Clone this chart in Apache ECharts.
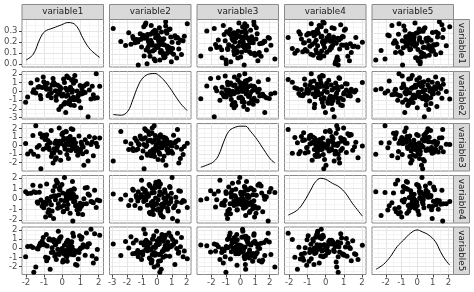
<!DOCTYPE html>
<html><head><meta charset="utf-8">
<script src="https://cdn.jsdelivr.net/npm/echarts@6/dist/echarts.min.js"></script>
<style>html,body{margin:0;padding:0;background:#fff}#c{width:474px;height:292px}</style>
</head><body><div id="c"></div>
<script>
const varNames = ['variable1','variable2','variable3','variable4','variable5'];

const v1 = [1.42,-2.02,-1.18,0.58,-1.57,0.31,-0.45,0.92,-0.12,1.65,
-0.83,0.05,0.47,-1.34,2.06,-0.27,0.73,-0.61,1.12,0.18,
-1.05,0.64,-0.38,1.87,-0.02,-0.74,0.39,1.33,-1.46,0.12,
0.85,-0.19,-0.92,0.54,1.58,-0.51,0.27,-1.21,0.98,-0.07,
0.43,-1.73,1.04,-0.33,0.69,0.22,-0.88,1.26,-0.56,0.36,
-0.14,1.71,-1.02,0.61,-0.29,0.08,1.19,-0.67,0.49,-1.38,
0.95,-0.41,0.15,1.49,-0.79,0.34,-0.22,0.77,-1.11,0.56,
1.93,-0.48,0.02,-0.95,0.66,1.08,-1.62,0.25,-0.35,0.81,
0.41,-0.09,1.37,-0.71,0.19,-1.27,0.88,0.52,-0.6,1.78,
-0.25,0.3,-0.86,1.15,0.07,-1.91,0.62,-0.17,1.01,0.45];

const v2 = [-2.93,-1.25,-0.86,1.38,0.2,-0.41,0.73,-1.12,0.15,0.59,
0.94,-0.33,-1.58,0.48,0.59,-0.07,1.21,-0.72,-0.24,0.36,
1.65,-0.95,0.08,2.04,-0.52,0.27,-1.36,0.81,-0.18,1.02,
-0.63,-2.1,0.42,-0.09,-0.88,1.47,0.11,-0.46,0.67,-1.74,
0.23,0.97,-0.29,-1.03,1.84,-0.57,0.34,-0.14,0.75,-1.19,
0.52,-0.38,1.12,-0.68,0.02,-1.47,0.61,0.29,-0.81,1.33,
-0.21,0.86,-1.28,0.17,-0.5,1.58,-0.02,-0.93,0.44,0.13,
-0.74,1.05,-0.35,0.66,-1.62,0.31,-0.11,1.76,-0.6,0.05,
-1.06,0.39,0.88,-0.27,-2.42,0.55,-0.44,1.27,-0.16,-0.78,
0.71,-1.39,0.24,-0.05,1.44,-0.66,0.93,-0.31,-1.89,0.47];

const v3 = [-1.8,0.25,-2.72,1.89,-1.0,0.62,-0.37,1.14,-0.81,0.43,
0.07,1.52,-0.58,-1.26,0.91,-0.14,0.33,1.77,-0.95,0.18,
-0.42,0.76,-1.63,0.29,1.31,-0.22,0.58,-0.71,2.35,-0.05,
-1.12,0.47,0.96,-0.3,0.14,-2.05,0.83,1.41,-0.48,0.22,
1.06,-0.67,0.39,-1.41,-0.09,1.62,-0.26,0.69,-0.87,0.11,
0.52,-1.18,1.23,0.04,-0.55,0.87,-2.31,0.35,1.97,-0.19,
-0.76,0.27,-0.39,1.08,0.61,-1.52,0.16,-0.63,0.98,0.41,
-0.11,-0.89,1.45,0.72,-0.33,0.09,1.19,-1.05,0.55,-0.24,
0.84,-1.71,0.31,-0.46,1.66,0.01,-0.69,0.48,-1.29,0.93,
0.2,-0.52,1.28,-0.17,0.65,-0.98,0.37,2.08,-0.44,0.13];

const v4 = [0.47,0.69,-0.1,-2.06,0.69,-0.52,0.31,-0.88,1.14,-0.27,
0.06,-1.21,0.83,-0.39,-0.15,1.59,-0.64,0.22,-1.47,0.48,
-0.33,0.97,-0.06,-0.79,1.36,-1.02,0.14,-0.45,0.61,2.02,
-0.58,0.38,-1.69,0.09,-0.24,0.77,-0.91,1.22,-0.4,-0.12,
-1.33,0.55,-0.7,1.78,-0.2,0.26,-0.49,1.03,-1.12,0.12,
0.88,-0.35,-0.81,0.44,1.49,-0.6,0.02,-1.55,0.67,-0.29,
-0.96,1.18,-0.18,0.35,-1.26,0.73,-0.44,0.19,-0.68,1.66,
-0.08,-1.83,0.58,-0.31,0.92,-0.55,1.31,-0.13,0.29,-1.04,
0.41,-0.74,1.09,-0.22,-0.01,0.64,-1.39,0.17,-0.53,0.83,
-0.86,0.33,1.41,-0.47,-1.16,0.52,-0.25,0.99,-0.62,0.07];

const v5 = [0.46,-0.93,0.35,1.63,-2.64,-0.21,0.68,-0.47,1.05,-0.85,
0.24,-1.33,0.57,-0.1,1.42,-0.62,-1.78,0.86,0.11,-0.36,
1.18,-0.73,0.39,-1.16,-0.03,0.92,-0.5,1.67,-2.05,0.31,
-0.27,0.74,-0.98,0.16,2.08,-0.41,-1.42,0.53,-0.08,1.26,
-0.65,0.2,0.98,-1.24,-0.31,0.62,1.51,-0.78,0.05,-0.44,
1.12,-1.61,0.43,-0.19,0.81,-0.57,0.28,-2.3,0.69,-0.02,
1.35,-0.88,-0.26,0.5,-1.07,0.15,1.86,-0.38,0.77,-0.69,
-0.14,0.96,-1.51,0.34,-0.6,1.21,0.07,-0.95,0.45,-1.87,
0.59,-0.33,0.13,1.04,-0.79,0.26,-1.19,0.71,-0.47,1.58,
-0.12,0.88,-1.38,0.38,-0.54,0.19,1.3,-0.7,0.01,-0.23];

// density curves
const densX1 = [-2.0,-1.6,-1.23,-0.96,-0.51,-0.05,0.31,0.58,0.86,1.13,1.46,1.77,2.06];
const densY1 = [0.036,0.089,0.23,0.297,0.328,0.357,0.378,0.372,0.328,0.238,0.149,0.098,0.06];
const densX2 = [-2.93,-2.39,-1.95,-1.61,-1.27,-0.93,-0.48,-0.14,0.2,0.53,0.87,1.32,1.7,2.04];
const densY2 = [0.095,0.08,0.164,0.41,0.69,0.867,0.95,0.958,0.9,0.796,0.657,0.446,0.284,0.179];
const densX3 = [-2.72,-2.28,-1.83,-1.49,-1.14,-0.8,-0.46,0,0.34,0.68,1.14,1.6,2.05,2.35];
const densY3 = [0.079,0.128,0.198,0.34,0.623,0.836,0.909,0.943,0.943,0.836,0.66,0.447,0.249,0.17];
const densX4 = [-2.05,-1.55,-1.19,-0.82,-0.55,-0.27,0,0.37,0.73,1.1,1.47,1.83,2.02];
const densY4 = [0.168,0.274,0.448,0.695,0.869,0.941,0.92,0.836,0.764,0.625,0.415,0.238,0.145];
const densX5 = [-2.63,-2.14,-1.71,-1.28,-0.86,-0.43,0,0.32,0.74,1.17,1.49,1.81,2.08];
const densY5 = [0.109,0.215,0.375,0.585,0.726,0.867,0.937,0.9,0.83,0.69,0.48,0.305,0.2];

const tickLabels = [[-2,-1,0,1,2],[-3,-2,-1,0,1,2],[-2,-1,0,1,2],[-2,-1,0,1,2],[-2,-1,0,1,2]];
const densTickLabels = [0.0,0.1,0.2,0.3];

const vars = [v1,v2,v3,v4,v5];
const densX = [densX1,densX2,densX3,densX4,densX5];
const densY = [densY1,densY2,densY3,densY4,densY5];

// layout / styling
const ranges = [[-2.22,2.27],[-3.18,2.29],[-2.98,2.6],[-2.26,2.22],[-2.88,2.32]];
const densRange1 = [-0.027,0.406];
const colLeft = [22,109.5,197,284.5,372];
const rowTop = [19.5,71.5,123.5,175.5,227];
const PW = 81.5, PH = 47.5;
const FONT = 'DejaVu Sans';
const BORDER = '#8a8a8a';

function minors(majors, rng){
  const m = [];
  const step = majors[1]-majors[0];
  const ext = [majors[0]-step].concat(majors).concat([majors[majors.length-1]+step]);
  for(let i=0;i<ext.length-1;i++){
    const v=(ext[i]+ext[i+1])/2;
    if(v>rng[0]&&v<rng[1]) m.push(+v.toFixed(4));
  }
  return m;
}

const grids=[], xAxes=[], yAxes=[], series=[];
const leftAxisInfo=[]; // [yAxisIndex, ticks, formatter]
for(let r=0;r<5;r++){
  for(let c=0;c<5;c++){
    const g = grids.length;
    grids.push({left:colLeft[c],top:rowTop[r],width:PW,height:PH,show:true,
      backgroundColor:'#fff',borderColor:BORDER,borderWidth:1});
    const bottom = r===4;
    const xi = xAxes.length;
    xAxes.push({type:'value',gridIndex:g,min:ranges[c][0],max:ranges[c][1],position:'bottom',
      axisLine:{show:false,onZero:false},
      axisTick:{show:bottom,length:3,customValues:tickLabels[c],lineStyle:{color:'#444',width:1}},
      axisLabel:{show:bottom,customValues:tickLabels[c],interval:0,hideOverlap:false,fontSize:8.5,color:'#4d4d4d',margin:4,fontFamily:FONT},
      splitLine:{show:true,lineStyle:{color:'#e6e6e6',width:1}},z:1});
    xAxes.push({type:'value',gridIndex:g,min:ranges[c][0],max:ranges[c][1],position:'bottom',
      axisLine:{show:false,onZero:false},axisTick:{show:false,customValues:minors(tickLabels[c],ranges[c])},
      axisLabel:{show:false},splitLine:{show:true,lineStyle:{color:'#efefef',width:0.6}},z:0});
    const left = c===0;
    const yi = yAxes.length;
    let yMain;
    if(r===0 && c===0){
      yMain = {min:densRange1[0],max:densRange1[1],ticks:densTickLabels,fmt:v=>v.toFixed(1)};
    } else {
      yMain = {min:ranges[r][0],max:ranges[r][1],ticks:tickLabels[r],fmt:v=>String(v)};
    }
    if(left) leftAxisInfo.push([yi, yMain.ticks, yMain.fmt]);
    const yMinVals = minors(yMain.ticks, [yMain.min,yMain.max]);
    yAxes.push({type:'value',gridIndex:g,min:yMain.min,max:yMain.max,position:'left',
      axisLine:{show:false,onZero:false},
      axisTick:{show:left,length:3,customValues:yMain.ticks,lineStyle:{color:'#444',width:1}},
      axisLabel:{show:false},
      splitLine:{show:true,lineStyle:{color:'#e6e6e6',width:1}},z:1});
    yAxes.push({type:'value',gridIndex:g,min:yMain.min,max:yMain.max,position:'left',
      axisLine:{show:false,onZero:false},axisTick:{show:false,customValues:yMinVals},
      axisLabel:{show:false},splitLine:{show:true,lineStyle:{color:'#efefef',width:0.6}},z:0});
    if(r===c){
      let yIdx = yi;
      if(r>0){
        yIdx = yAxes.length;
        yAxes.push({type:'value',gridIndex:g,min:0,max:1,show:false,position:'right',
          axisLine:{show:false,onZero:false},splitLine:{show:false}});
      }
      series.push({type:'line',xAxisIndex:xi,yAxisIndex:yIdx,smooth:0.4,showSymbol:false,silent:true,
        lineStyle:{color:'#000',width:1},data:densX[r].map((x,i)=>[x,densY[r][i]]),z:5});
    } else {
      series.push({type:'scatter',xAxisIndex:xi,yAxisIndex:yi,symbolSize:5,silent:true,
        itemStyle:{color:'#000',opacity:1},data:vars[c].map((x,i)=>[x,vars[r][i]]),z:5});
    }
  }
}

const graphics=[];
for(let c=0;c<5;c++){
  graphics.push({type:'rect',shape:{x:colLeft[c],y:4.5,width:PW,height:15},
    style:{fill:'#d9d9d9',stroke:BORDER,lineWidth:1},z:10});
  graphics.push({type:'text',x:colLeft[c]+PW/2,y:12,
    style:{text:varNames[c],fill:'#1a1a1a',font:'8.8px "DejaVu Sans"',align:'center',verticalAlign:'middle'},z:11});
}
for(let r=0;r<5;r++){
  graphics.push({type:'rect',shape:{x:453.5,y:rowTop[r],width:16,height:PH},
    style:{fill:'#d9d9d9',stroke:BORDER,lineWidth:1},z:10});
  graphics.push({type:'text',x:461.5,y:rowTop[r]+PH/2,rotation:-Math.PI/2,
    style:{text:varNames[r],fill:'#1a1a1a',font:'8.8px "DejaVu Sans"',align:'center',verticalAlign:'middle'},z:11});
}

const chart = echarts.init(document.getElementById('c'),null,{renderer:'canvas'});
chart.setOption({animation:false,backgroundColor:'#fff',grid:grids,xAxis:xAxes,yAxis:yAxes,series:series,graphic:graphics});

// left-column tick labels, positioned through the library's y scales
leftAxisInfo.forEach(([yIdx, ticks, fmt])=>{
  ticks.forEach(t=>{
    const py = chart.convertToPixel({yAxisIndex:yIdx}, t);
    graphics.push({type:'text',x:colLeft[0]-4.5,y:py,
      style:{text:fmt(t),fill:'#4d4d4d',font:'8.5px "DejaVu Sans"',align:'right',verticalAlign:'middle'},z:11});
  });
});
chart.setOption({graphic:graphics});
</script></body></html>
